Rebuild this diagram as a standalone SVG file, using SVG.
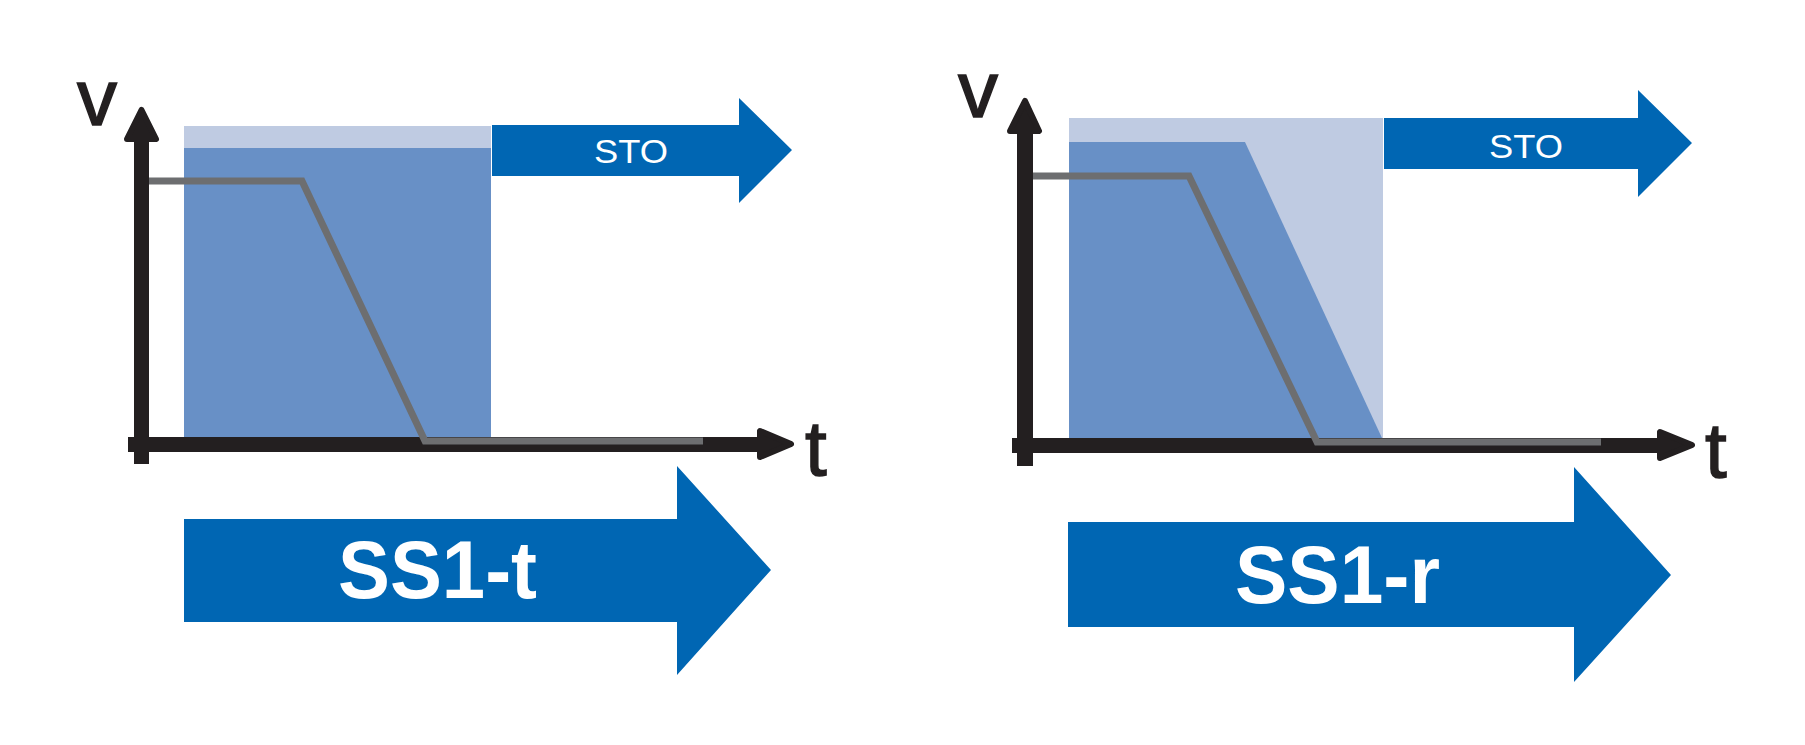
<svg xmlns="http://www.w3.org/2000/svg" width="1805" height="745" viewBox="0 0 1805 745">
<style>
.dark{fill:#0066b3}
.mid{fill:#6890c6}
.light{fill:#bfcbe2}
.axis{fill:#231f20;stroke:#231f20;stroke-linejoin:round;stroke-width:6}
.bar{fill:#231f20}
.speed{fill:none;stroke:#6d6e70;stroke-width:7;stroke-linejoin:miter}
.lbl{font-family:"Liberation Sans",Arial,sans-serif;fill:#231f20;stroke:#231f20;stroke-width:1.5}
.sto{font-family:"Liberation Sans",Arial,sans-serif;font-size:34px;fill:#ffffff;text-anchor:middle}
.big{font-family:"Liberation Sans",Arial,sans-serif;font-weight:bold;font-size:81px;fill:#ffffff;text-anchor:middle}
</style>
<rect width="1805" height="745" fill="#ffffff"/>

<g id="panel-ss1t">
  <rect class="light" x="184" y="126" width="307" height="311"/>
  <rect class="mid" x="184" y="148" width="307" height="289"/>
  <g id="sto-left">
    <path class="dark" d="M492 125 H739 V98 L792 150 L739 203 V176 H492 Z"/>
    <text class="sto" x="631" y="163" textLength="74" lengthAdjust="spacingAndGlyphs">STO</text>
  </g>
  <g id="axes-left">
    <rect class="bar" x="134" y="140" width="15" height="324"/>
    <path class="axis" d="M141.5 110 L156 139 L127 139 Z"/>
    <rect class="bar" x="128" y="437" width="632" height="15"/>
    <path class="axis" d="M791 444 L760 431 L760 457 Z"/>
    <text class="lbl" x="77" y="125" font-size="80">v</text>
    <text class="lbl" x="805" y="475" font-size="78">t</text>
  </g>
  <polyline class="speed" points="149,181 302,181 425,441 703,441"/>
  <g id="ss1t-arrow">
    <path class="dark" d="M184 519 H677 V466 L771 570 L677 675 V622 H184 Z"/>
    <text class="big" x="437.5" y="598" textLength="199" lengthAdjust="spacingAndGlyphs">SS1-t</text>
  </g>
</g>

<g id="panel-ss1r">
  <rect class="light" x="1069" y="118" width="314" height="320"/>
  <polygon class="mid" points="1069,142 1245,142 1382,438 1069,438"/>
  <g id="sto-right">
    <path class="dark" d="M1384 118 H1638 V90 L1692 143 L1638 197 V169 H1384 Z"/>
    <text class="sto" x="1526" y="158" textLength="74" lengthAdjust="spacingAndGlyphs">STO</text>
  </g>
  <g id="axes-right">
    <rect class="bar" x="1017" y="132" width="16" height="334"/>
    <path class="axis" d="M1025 101 L1039 131 L1010 131 Z"/>
    <rect class="bar" x="1012" y="438" width="648" height="15"/>
    <path class="axis" d="M1692 445 L1660 432 L1660 458 Z"/>
    <text class="lbl" x="958" y="117" font-size="80">v</text>
    <text class="lbl" x="1705" y="477" font-size="78">t</text>
  </g>
  <polyline class="speed" points="1033,176 1189,176 1317,442 1601,442"/>
  <g id="ss1r-arrow">
    <path class="dark" d="M1068 522 H1574 V467 L1671 575 L1574 682 V627 H1068 Z"/>
    <text class="big" x="1337.5" y="603" textLength="205" lengthAdjust="spacingAndGlyphs">SS1-r</text>
  </g>
</g>
</svg>
